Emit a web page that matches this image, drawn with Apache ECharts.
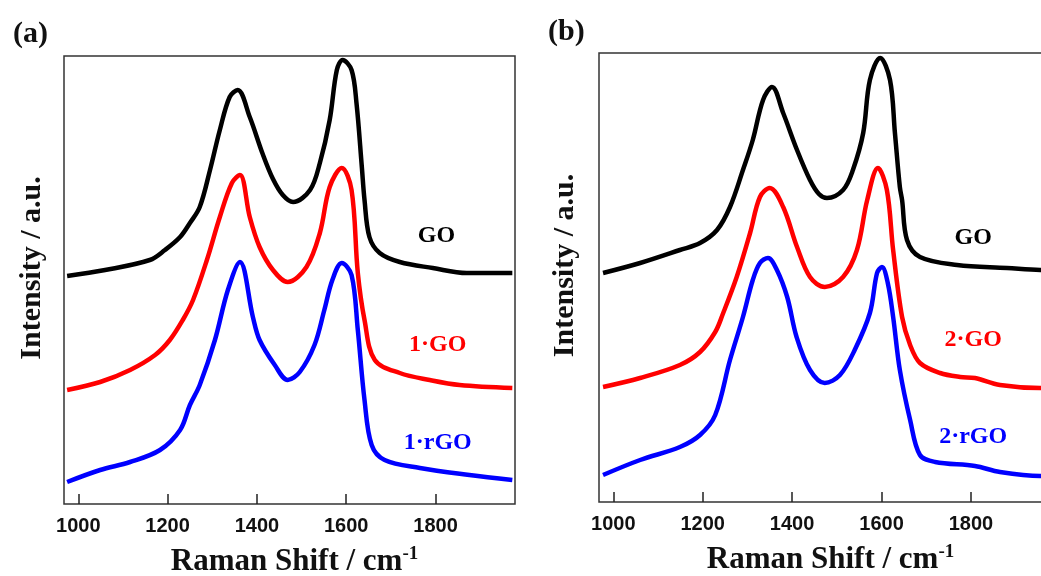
<!DOCTYPE html>
<html><head><meta charset="utf-8">
<script src="https://cdn.jsdelivr.net/npm/echarts@6/dist/echarts.min.js"></script>
<style>html,body{margin:0;padding:0;background:#fff}#c{width:1041px;height:576px}</style>
</head><body><div id="c"></div>
<script>
// Raman shift (cm-1) and intensity (a.u.)
const xTicks = [1000, 1200, 1400, 1600, 1800];

// Panel (a)
const aGO_x   = [975,1060,1160,1194,1228,1250,1272,1295,1317,1339,1357,1384,1413,1436,1458,1481,1519,1541,1563,1579,1592,1612,1623,1635,1641,1652,1675,1720,1794,1870,1972];
const aGO_y   = [228,234,244,254,267,281,297,334,374,407,414,387,350,325,309,302,314,341,384,434,444,434,401,337,304,267,251,242,236,231,231];
const a1GO_x  = [975,1049,1116,1172,1205,1234,1257,1288,1317,1344,1362,1384,1406,1436,1469,1511,1541,1563,1590,1612,1626,1641,1664,1720,1787,1854,1972];
const a1GO_y  = [114,122,134,149,164,184,204,244,287,321,329,287,257,234,222,237,271,317,336,314,231,184,144,131,124,119,116];
const a1rGO_x = [975,1049,1116,1183,1228,1250,1272,1306,1335,1362,1391,1406,1440,1469,1496,1529,1551,1569,1590,1612,1626,1641,1657,1686,1765,1876,1972];
const a1rGO_y = [22,34,42,54,74,99,119,164,214,242,187,164,139,124,132,159,194,224,241,229,174,104,59,44,36,29,24];

// Panel (b)
const bGO_x   = [977,1060,1149,1194,1232,1261,1290,1312,1335,1355,1380,1411,1440,1460,1478,1514,1536,1559,1574,1597,1619,1630,1641,1646,1657,1686,1769,1881,1955,1978];
const bGO_y   = [229,239,252,259,272,295,332,362,402,415,389,352,322,308,304,312,332,369,422,444,422,369,315,302,262,245,237,234,232,232];
const b2GO_x  = [977,1060,1149,1194,1228,1245,1276,1306,1328,1350,1380,1411,1440,1473,1514,1545,1568,1592,1612,1626,1646,1664,1686,1731,1776,1809,1865,1955,1978];
const b2GO_y  = [115,124,137,150,170,188,225,269,305,314,295,255,225,215,225,252,302,334,312,252,185,157,139,129,125,124,117,114,114];
const b2rGO_x = [977,1060,1149,1194,1228,1261,1290,1312,1328,1346,1366,1389,1410,1440,1473,1507,1540,1574,1590,1601,1614,1626,1641,1664,1686,1720,1809,1865,1955,1978];
const b2rGO_y = [27,42,55,67,87,142,185,222,239,244,232,205,165,132,119,127,152,189,229,235,219,185,132,82,47,40,36,30,26,26];

// Curve labels
const aLabelText = ['GO', '1·GO', '1·rGO'];
const aLabelX = [1802, 1805, 1805];
const aLabelY = [268, 159, 61];
const bLabelText = ['GO', '2·GO', '2·rGO'];
const bLabelX = [1805, 1805, 1805];
const bLabelY = [264, 162, 65];

const colors = ['#000000', '#ff0000', '#0000ff'];
const zip = (xs, ys) => xs.map((x, i) => [x, ys[i]]);

const chart = echarts.init(document.getElementById('c'), null, {renderer: 'canvas'});
const serif = "'Liberation Serif','Times New Roman',serif";
const sans = "'Liberation Sans',Arial,sans-serif";

function xAxisFor(gi, max, shift) {
  return {
    gridIndex: gi, type: 'value', min: 968, max: max,
    axisLine: {show: false},
    splitLine: {show: false},
    axisTick: {show: true, inside: true, length: 10, lineStyle: {color: '#222', width: 1.5}, customValues: xTicks},
    axisLabel: {show: true, customValues: xTicks, formatter: v => String(v), margin: 12, color: '#111', fontSize: 20, fontWeight: 'bold', fontFamily: sans},
    name: '{m|Raman Shift / cm}{s|-1}', nameLocation: 'middle', nameGap: 41,
    nameTextStyle: {padding: [0, 0, 0, shift], rich: {
      m: {fontFamily: serif, fontWeight: 'bold', fontSize: 31, color: '#111', lineHeight: 32, verticalAlign: 'bottom'},
      s: {fontFamily: serif, fontWeight: 'bold', fontSize: 19, color: '#111', lineHeight: 32, verticalAlign: 'top'}
    }}
  };
}
function yAxisFor(gi, max, gap) {
  return {
    gridIndex: gi, type: 'value', min: 0, max: max,
    axisLine: {show: false}, axisTick: {show: false}, axisLabel: {show: false}, splitLine: {show: false},
    name: 'Intensity / a.u.', nameLocation: 'middle', nameRotate: 90, nameGap: gap,
    nameTextStyle: {fontFamily: serif, fontWeight: 'bold', fontSize: 30, color: '#111', padding: [0, 0, 0, 24]}
  };
}
function line(gi, xs, ys, ci) {
  return {type: 'line', xAxisIndex: gi, yAxisIndex: gi, data: zip(xs, ys), showSymbol: false, symbol: 'none',
    smooth: 0.35, lineStyle: {color: colors[ci], width: 4.5}, silent: true, animation: false, clip: true};
}
function labels(gi, texts, xs, ys) {
  return {type: 'scatter', xAxisIndex: gi, yAxisIndex: gi, symbolSize: 0, animation: false, silent: true,
    itemStyle: {opacity: 1}, emphasis: {disabled: true},
    data: texts.map((t, i) => ({value: [xs[i], ys[i]], name: t, label: {color: colors[i]}})),
    label: {show: true, position: 'inside', formatter: p => p.name, fontFamily: serif, fontWeight: 'bold', fontSize: 24, textBorderWidth: 0, opacity: 1}};
}

chart.setOption({
  backgroundColor: '#fff',
  animation: false,
  title: [
    {text: '(a)', left: 8, top: 14, textStyle: {fontFamily: serif, fontWeight: 'bold', fontSize: 30, color: '#111'}},
    {text: '(b)', left: 543, top: 12, textStyle: {fontFamily: serif, fontWeight: 'bold', fontSize: 30, color: '#111'}}
  ],
  grid: [
    {left: 64, top: 56, width: 451, height: 448, show: true, borderColor: '#333', borderWidth: 1.5, backgroundColor: 'transparent', outerBoundsMode: 'none'},
    {left: 599, top: 53, width: 443, height: 449, show: true, borderColor: '#333', borderWidth: 1.5, backgroundColor: 'transparent', outerBoundsMode: 'none'}
  ],
  xAxis: [xAxisFor(0, 1978, 10), xAxisFor(1, 1959, 20)],
  yAxis: [yAxisFor(0, 448, 17), yAxisFor(1, 449, 19)],
  series: [
    line(0, aGO_x, aGO_y, 0), line(0, a1GO_x, a1GO_y, 1), line(0, a1rGO_x, a1rGO_y, 2),
    line(1, bGO_x, bGO_y, 0), line(1, b2GO_x, b2GO_y, 1), line(1, b2rGO_x, b2rGO_y, 2),
    labels(0, aLabelText, aLabelX, aLabelY), labels(1, bLabelText, bLabelX, bLabelY)
  ]
});
</script></body></html>
